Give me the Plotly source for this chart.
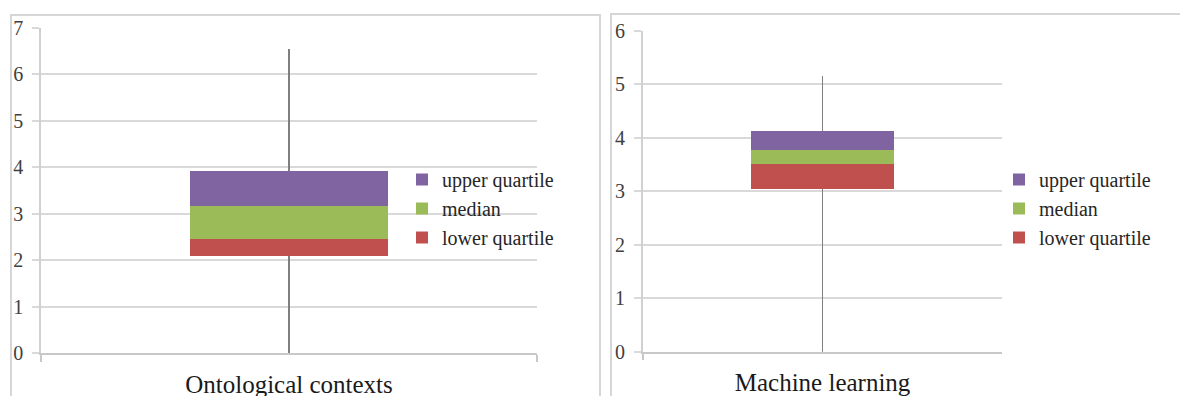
import plotly.graph_objects as go

# ---- data ----
categories = ["Ontological contexts", "Machine learning"]
whisker_low = [0.0, 0.0]
box_base = [2.08, 3.05]          # invisible base of the stacked box
lower_quartile = [0.38, 0.46]    # red segment height
median = [0.71, 0.26]            # green segment height
upper_quartile = [0.75, 0.36]    # purple segment height
whisker_high = [6.55, 5.16]
y_max = [7, 6]

W, H = 1188, 396
OFF = 8  # page body margin offset
FONT = "Liberation Serif"


def px(x):
    return (x - OFF) / W


def py(y):
    return 1 - (y - OFF) / H


segments = [
    ("lower quartile", lower_quartile, "#C0504D", 3),
    ("median", median, "#9BBB59", 2),
    ("upper quartile", upper_quartile, "#8064A2", 1),
]

fig = go.Figure()
for i, cat in enumerate(categories):
    xa = "x" if i == 0 else "x2"
    ya = "y" if i == 0 else "y2"
    lg = "legend" if i == 0 else "legend2"
    fig.add_bar(
        x=[cat], y=[box_base[i]], xaxis=xa, yaxis=ya,
        marker=dict(color="rgba(0,0,0,0)", line=dict(width=0)),
        showlegend=False, hoverinfo="skip",
        error_y=dict(type="data", symmetric=False,
                     array=[whisker_high[i] - box_base[i]],
                     arrayminus=[box_base[i] - whisker_low[i]],
                     color="#7F7F7F", thickness=1.2, width=0),
    )
    for name, vals, color, rank in segments:
        fig.add_bar(
            x=[cat], y=[vals[i]], name=name, xaxis=xa, yaxis=ya,
            marker=dict(color=color, line=dict(width=0)),
            legend=lg, legendrank=rank,
        )


def xaxis(domain, anchor):
    return dict(domain=domain, anchor=anchor, automargin=False,
                showline=True, linecolor="#C8C8C8", linewidth=1.5,
                ticks="outside", ticklen=7, tickcolor="#C8C8C8", tickwidth=1.5,
                tickson="boundaries", showgrid=False, fixedrange=True,
                tickfont=dict(family=FONT, size=25, color="#1A1A1A"),
                ticklabelstandoff=8)


def yaxis(domain, anchor, top):
    return dict(domain=domain, anchor=anchor, automargin=False,
                range=[0, top], dtick=1,
                showgrid=True, gridcolor="#D9D9D9", gridwidth=1.5,
                showline=True, linecolor="#D0D0D0", linewidth=1.5,
                ticks="outside", ticklen=7, tickcolor="#D9D9D9", tickwidth=1.5,
                zeroline=False, fixedrange=True,
                tickfont=dict(family=FONT, size=20, color="#404040"),
                ticklabelstandoff=5)


legend_common = dict(bgcolor="rgba(0,0,0,0)", traceorder="normal",
                     xanchor="left", yanchor="top",
                     font=dict(family=FONT, size=20, color="#262626"))

fig.update_layout(
    width=W, height=H, autosize=False,
    margin=dict(l=0, r=0, t=0, b=0, autoexpand=False),
    paper_bgcolor="white", plot_bgcolor="white",
    barmode="stack", bargap=0.6,
    xaxis=xaxis([px(41), px(537)], "y"),
    yaxis=yaxis([py(353), py(27.7)], "x", y_max[0]),
    xaxis2=xaxis([px(642.8), px(1002.3)], "y2"),
    yaxis2=yaxis([py(351.7), py(31)], "x2", y_max[1]),
    legend=dict(x=px(402), y=py(160), **legend_common),
    legend2=dict(x=px(999), y=py(160), **legend_common),
    shapes=[
        dict(type="rect", xref="paper", yref="paper",
             x0=px(11), x1=px(600), y0=-0.2, y1=py(15),
             line=dict(color="#D6D6D6", width=2), fillcolor="rgba(0,0,0,0)"),
        dict(type="rect", xref="paper", yref="paper",
             x0=px(611), x1=1.1, y0=-0.2, y1=py(14),
             line=dict(color="#D6D6D6", width=2), fillcolor="rgba(0,0,0,0)"),
    ],
    showlegend=True,
)

fig.write_html("out.html")
